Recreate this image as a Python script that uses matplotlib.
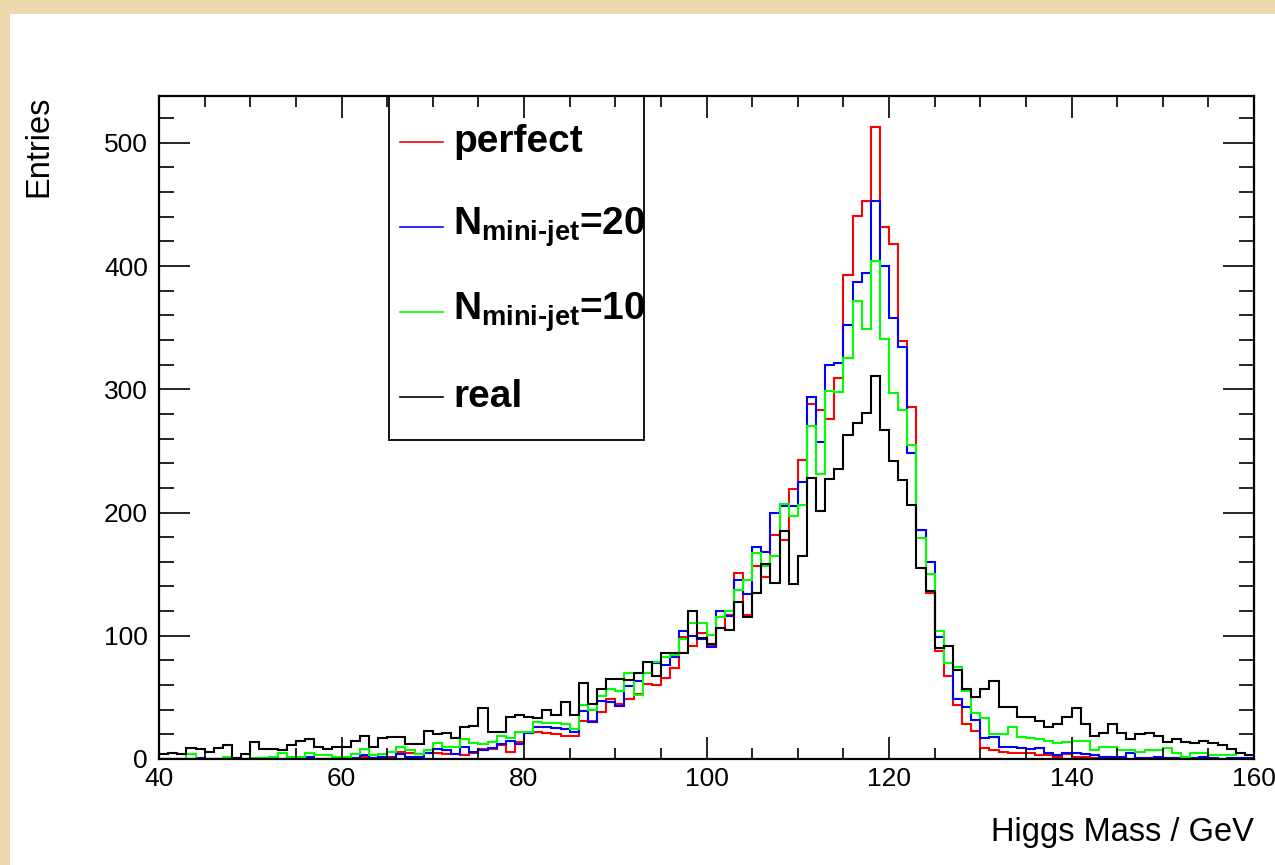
import numpy as np
import matplotlib
matplotlib.use("Agg")
import matplotlib.pyplot as plt
from matplotlib.patches import Rectangle
from matplotlib.lines import Line2D

# histogram binning: 1 GeV bins from 40 to 160 GeV
mass_lo = 40
mass_hi = 160
bin_edges = np.arange(mass_lo, mass_hi + 1, 1)

# entries per bin (bins 40..159)
perfect = [
    0, 0, 0, 0, 0, 0, 0, 0, 1, 0,
    0, 0, 0, 0, 1, 0, 0, 0, 0, 0,
    1, 0, 2, 1, 2, 2, 6, 5, 4, 5,
    5, 4, 4, 3, 5, 8, 8, 11, 6, 14,
    21, 22, 21, 20, 19, 19, 31, 31, 38, 49,
    45, 49, 53, 61, 60, 66, 74, 99, 92, 102,
    92, 106, 117, 151, 117, 157, 148, 182, 178, 219,
    243, 288, 283, 276, 309, 393, 441, 453, 513, 432,
    418, 339, 286, 186, 135, 88, 67, 44, 28, 23,
    9, 7, 6, 5, 5, 5, 3, 3, 2, 4,
    2, 2, 1, 2, 1, 2, 0, 1, 1, 1,
    0, 1, 0, 1, 0, 1, 0, 0, 1, 0,
]
nmini20 = [
    0, 0, 0, 0, 1, 0, 0, 0, 0, 0,
    0, 0, 0, 0, 0, 0, 2, 0, 0, 0,
    0, 1, 3, 1, 2, 1, 4, 2, 2, 5,
    8, 7, 4, 10, 6, 7, 9, 12, 15, 12,
    21, 26, 26, 25, 24, 22, 39, 30, 47, 46,
    43, 59, 63, 70, 78, 76, 83, 104, 100, 97,
    91, 120, 116, 145, 134, 172, 168, 200, 205, 205,
    225, 294, 257, 320, 321, 352, 387, 394, 453, 400,
    358, 334, 248, 186, 160, 99, 78, 49, 42, 32,
    17, 18, 10, 10, 9, 8, 9, 5, 3, 5,
    5, 4, 3, 2, 2, 2, 5, 1, 1, 2,
    1, 1, 1, 1, 2, 1, 0, 1, 1, 1,
]
nmini10 = [
    0, 0, 0, 4, 0, 0, 0, 2, 0, 0,
    1, 1, 2, 5, 2, 2, 5, 3, 3, 2,
    2, 4, 8, 3, 4, 6, 10, 7, 4, 7,
    13, 10, 10, 16, 13, 12, 14, 19, 17, 22,
    22, 30, 29, 29, 28, 24, 44, 40, 51, 57,
    55, 70, 52, 70, 79, 83, 84, 97, 110, 110,
    101, 115, 120, 137, 145, 167, 157, 165, 207, 197,
    206, 270, 231, 299, 298, 325, 372, 349, 404, 341,
    297, 283, 255, 179, 150, 104, 78, 75, 55, 37,
    33, 20, 20, 26, 18, 17, 16, 15, 13, 14,
    15, 15, 7, 10, 10, 7, 7, 6, 7, 7,
    9, 5, 2, 5, 5, 3, 3, 3, 5, 3,
]
real = [
    4, 5, 4, 9, 8, 6, 9, 11, 1, 4,
    14, 8, 8, 7, 11, 15, 16, 10, 8, 10,
    10, 15, 19, 10, 17, 18, 18, 12, 12, 23,
    20, 21, 17, 26, 27, 41, 22, 22, 34, 36,
    34, 33, 40, 36, 46, 36, 62, 45, 57, 65,
    65, 64, 70, 79, 67, 86, 86, 86, 120, 98,
    93, 106, 105, 127, 115, 135, 158, 143, 185, 142,
    165, 228, 201, 227, 235, 263, 273, 281, 311, 267,
    242, 226, 206, 155, 136, 90, 92, 72, 57, 50,
    57, 63, 42, 42, 34, 34, 31, 26, 28, 34,
    41, 28, 19, 21, 28, 21, 16, 20, 21, 19,
    14, 16, 14, 13, 15, 13, 11, 8, 5, 3,
]

labels = ["perfect", "N$_{\\mathbf{mini\u2010jet}}$=20",
          "N$_{\\mathbf{mini\u2010jet}}$=10", "real"]
colors = ["#ff0000", "#0000ff", "#00ff00", "#000000"]

plt.rcParams["font.family"] = ["Liberation Sans", "DejaVu Sans"]
plt.rcParams["mathtext.fontset"] = "custom"
plt.rcParams["mathtext.rm"] = "Liberation Sans"
plt.rcParams["mathtext.bf"] = "Liberation Sans:bold"

W, H = 1275, 865
fig = plt.figure(figsize=(W / 100, H / 100), dpi=100)
fig.patch.set_facecolor("#ecd9ae")
# white panel on the beige backdrop
fig.patches.append(Rectangle((10 / W, 0), 1 - 10 / W, 1 - 14 / H,
                             transform=fig.transFigure, facecolor="white",
                             edgecolor="none", zorder=-10))

ax = fig.add_axes([159 / W, (H - 759) / H, 1095 / W, 663 / H])
ax.set_zorder(1)
ax.set_facecolor("white")

for vals, col in zip([perfect, nmini20, nmini10, real], colors):
    ax.stairs(vals, bin_edges, color=col, lw=1.5, baseline=None, zorder=2)

ax.set_xlim(mass_lo, mass_hi)
ax.set_ylim(0, 538)
ax.set_xticks(np.arange(40, 161, 20))
ax.set_xticks(np.arange(40, 161, 5), minor=True)
ax.set_yticks(np.arange(0, 501, 100))
ax.set_yticks(np.arange(0, 538, 20), minor=True)

ax.tick_params(axis="both", which="both", direction="in", top=True,
               right=True, width=1.2, labelsize=19)
ax.tick_params(axis="x", which="major", length=16, pad=6)
ax.tick_params(axis="x", which="minor", length=8)
ax.tick_params(axis="y", which="major", length=22, pad=8)
ax.tick_params(axis="y", which="minor", length=11)
for sp in ax.spines.values():
    sp.set_linewidth(1.6)
    sp.set_zorder(6)
ax.xaxis.set_zorder(6)
ax.yaxis.set_zorder(6)

ax.set_xlabel("Higgs Mass / GeV", fontsize=23.5, loc="right")
ax.xaxis.set_label_coords(1.0, -0.087)
ax.set_ylabel("Entries", fontsize=23.5, loc="top")
ax.yaxis.set_label_coords(-0.096, 1.0)

# legend box drawn by hand, ROOT style
ax.add_patch(Rectangle((0.21, 0.481), 0.233, 0.519, transform=ax.transAxes,
                       facecolor="white", edgecolor="black", lw=1.3,
                       zorder=4, clip_on=False))
for i, (lab, col) in enumerate(zip(labels, colors)):
    y = 0.9306 - i * 0.1282
    ax.add_line(Line2D([0.220, 0.2594], [y, y], transform=ax.transAxes,
                       color=col, lw=1.2, zorder=5))
    ax.text(0.2685, y, lab, transform=ax.transAxes, fontsize=28,
            fontweight="bold", va="center", ha="left", zorder=5,
            clip_on=False)

fig.savefig("out.png", dpi=100, facecolor=fig.get_facecolor())
plt.close(fig)
